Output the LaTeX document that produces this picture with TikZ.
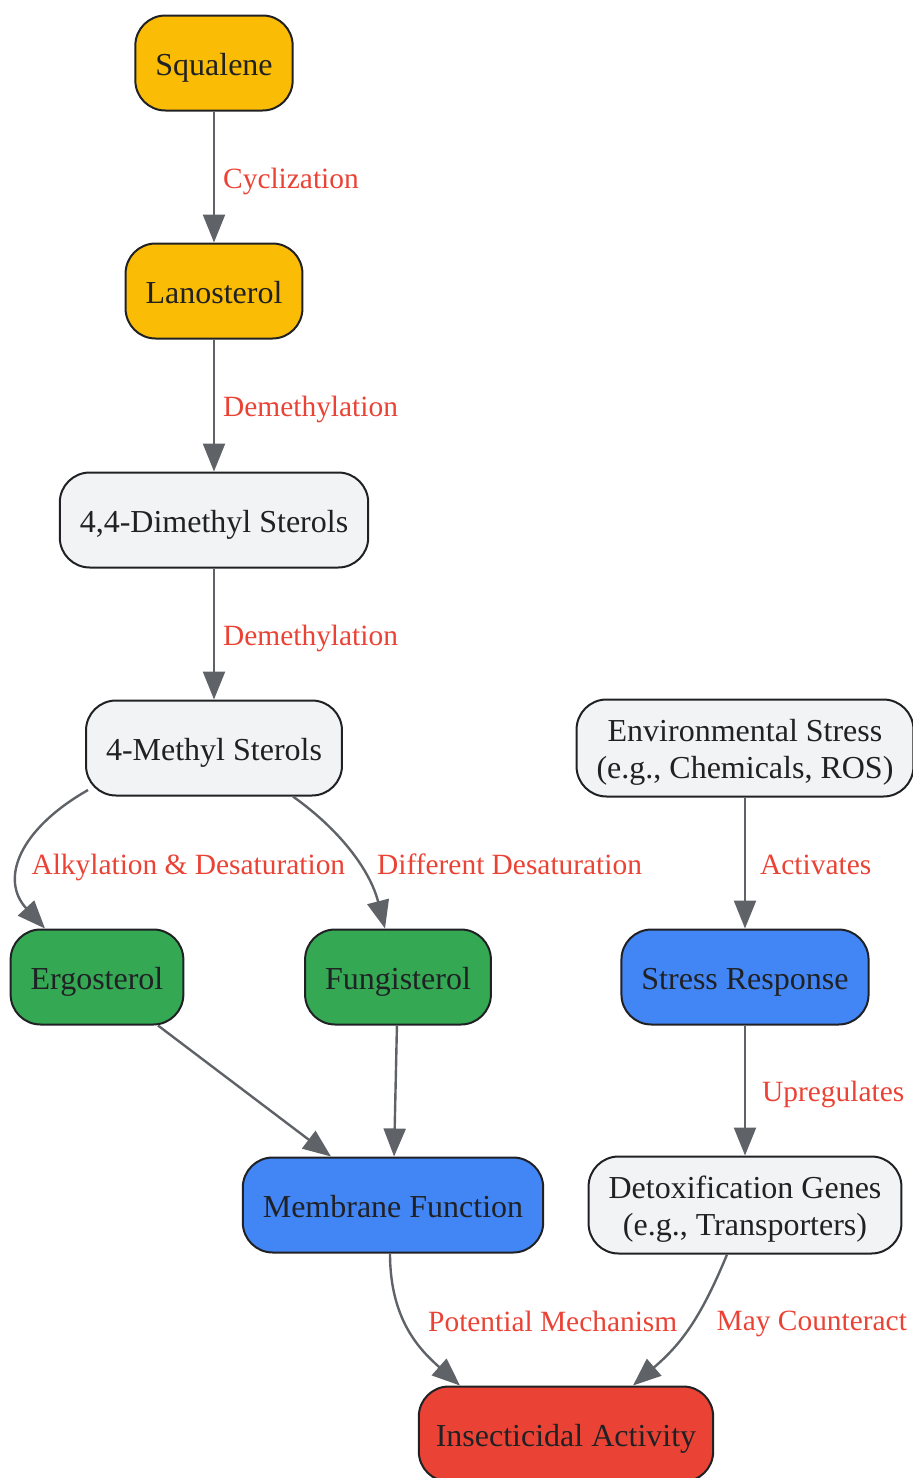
\documentclass[tikz,border=0pt]{standalone}
\usepackage{fontspec}
\setmainfont{Liberation Serif}
\usetikzlibrary{arrows.meta}

\definecolor{gyellow}{HTML}{FBBC05}
\definecolor{ggrey}{HTML}{F1F3F4}
\definecolor{ggreen}{HTML}{34A853}
\definecolor{gblue}{HTML}{4285F4}
\definecolor{gred}{HTML}{EA4335}
\definecolor{edgegrey}{HTML}{5F6368}
\definecolor{inkdark}{HTML}{202124}

\begin{document}
\begin{tikzpicture}[x=0.5pt,y=-0.5pt,
  -{Triangle[length=14pt,width=11pt]},line width=1.2pt,draw=edgegrey,
  box/.style={rectangle,rounded corners=15pt,draw=inkdark,line width=1pt,text=inkdark,
    minimum height=47.5pt,inner xsep=10pt,inner ysep=3pt,align=center,
    text height=15pt,text depth=3pt,font=\fontsize{16}{18.5}\selectfont},
  twoline/.style={minimum height=48.5pt,text height=33.5pt},
  early/.style={box,fill=gyellow},
  mid/.style={box,fill=ggrey},
  final/.style={box,fill=ggreen},
  func/.style={box,fill=gblue},
  effect/.style={box,fill=gred},
  lbl/.style={text=gred,inner sep=0pt,anchor=west,text height=14pt,text depth=3pt,
    font=\fontsize{14.7}{17}\selectfont}]

  \useasboundingbox (0,0) rectangle (912,1478);

  \node[early] (squal) at (214,63) {Squalene};
  \node[early] (lano) at (214,291) {Lanosterol};
  \node[mid] (dimeth) at (214,520) {4,4-Dimethyl Sterols};
  \node[mid] (meth) at (214,748) {4-Methyl Sterols};
  \node[mid,twoline] (env) at (745,748) {Environmental Stress\\(e.g., Chemicals, ROS)};
  \node[final] (ergo) at (97,977) {Ergosterol};
  \node[final] (fungi) at (398,977) {Fungisterol};
  \node[func] (stress) at (745,977) {Stress Response};
  \node[func] (membr) at (393,1205) {Membrane Function};
  \node[mid,twoline] (detox) at (745,1205) {Detoxification Genes\\(e.g., Transporters)};
  \node[effect,inner xsep=8.5pt] (insect) at (566,1434) {Insecticidal Activity};

  \path
    (squal) edge node[lbl,xshift=4pt] {Cyclization} (lano)
    (lano) edge node[lbl,xshift=4pt] {Demethylation} (dimeth)
    (dimeth) edge node[lbl,xshift=4pt] {Demethylation} (meth)
    (env) edge node[lbl,xshift=7pt] {Activates} (stress)
    (stress) edge node[lbl,xshift=8pt] {Upregulates} (detox)
    ([shift={(61,0)}]ergo.south) edge ([shift={(-62,0)}]membr.north)
    (fungi) edge (membr)
    ;

  % curved connectors
  \draw ([shift={(3,42)}]meth.west) .. controls (18,830) and (0,880) .. ([shift={(-52,0)}]ergo.north)
    node[lbl,pos=0.5,xshift=3.5pt,yshift=-3.5pt] {Alkylation \& Desaturation};
  \draw ([shift={(79,0)}]meth.south) .. controls (340,830) and (370,870) .. ([shift={(-13,0)}]fungi.north)
    node[lbl,pos=0.5,xshift=12.5pt,yshift=-5pt] {Different Desaturation};
  \draw ([shift={(-3,0)}]membr.south) .. controls (390,1320) and (420,1350) .. ([shift={(-106,0)}]insect.north)
    node[lbl,pos=0.5,xshift=8.5pt,yshift=5.5pt] {Potential Mechanism};
  \draw ([shift={(-18,0)}]detox.south) .. controls (700,1320) and (680,1345) .. ([shift={(67,0)}]insect.north)
    node[lbl,pos=0.5,xshift=14pt,yshift=4.7pt] {May Counteract};
\end{tikzpicture}
\end{document}
